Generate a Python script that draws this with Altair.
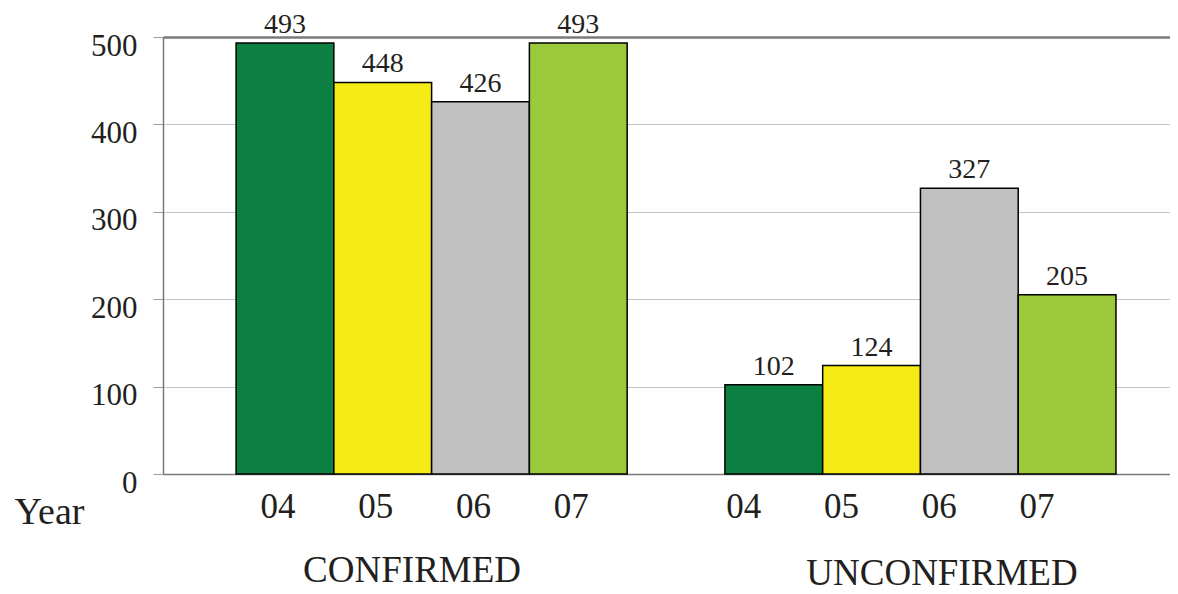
import altair as alt
import pandas as pd

groups = ["CONFIRMED"] * 4 + ["UNCONFIRMED"] * 4
years = ["04", "05", "06", "07"] * 2
values = [493, 448, 426, 493, 102, 124, 327, 205]
year_colors = ["#0b8040", "#f5eb16", "#c0c0c0", "#9aca3c"]
y_ticks = [0, 100, 200, 300, 400, 500]

keys = [("C" if g == "CONFIRMED" else "U") + "|" + y for g, y in zip(groups, years)]
domain = ["C|04", "C|05", "C|06", "C|07", "gap", "U|04", "U|05", "U|06", "U|07"]

df = pd.DataFrame({"key": keys, "group": groups, "year": years, "value": values})

FONT = "Liberation Serif"
W, H = 1007, 437

xscale = alt.Scale(domain=domain, paddingInner=0, paddingOuter=0.65, align=0.575)
yscale = alt.Scale(domain=[0, 500], nice=False)

x_axis = alt.Axis(
    title="Year",
    titleFont=FONT, titleFontSize=38, titleFontWeight="normal", titleColor="#231f20",
    titleX=-114, titleY=49, titleAlign="center", titleBaseline="alphabetic", titleAngle=0,
    labelExpr="datum.value == 'gap' ? '' : split(datum.value, '|')[1]",
    labelFont=FONT, labelFontSize=35, labelColor="#231f20",
    labelBaseline="alphabetic", labelPadding=43, labelAngle=0,
    labelOffset={"condition": {"test": "indexof(datum.value, 'U') == 0", "value": -30}, "value": -7},
    ticks=False, domainColor="#7a7a7a", domainWidth=1.5, grid=False,
)
y_axis = alt.Axis(
    title=None, values=y_ticks,
    labelFont=FONT, labelFontSize=31, labelColor="#231f20",
    labelBaseline="alphabetic", labelOffset=18, labelPadding=16,
    tickSize=10, tickColor="#9a9a9a", tickWidth=1,
    domainColor="#7a7a7a", domainWidth=1.5,
    grid=True,
    gridColor={"condition": {"test": "datum.value == 500", "value": "#7a7a7a"}, "value": "#c4c4c4"},
    gridWidth={"condition": {"test": "datum.value == 500", "value": 2.5}, "value": 1},
)

base = alt.Chart(df)

bars = base.mark_bar(stroke="black", strokeWidth=1.5).encode(
    x=alt.X("key:N", scale=xscale, axis=x_axis),
    y=alt.Y("value:Q", scale=yscale, axis=y_axis),
    color=alt.Color("year:N", scale=alt.Scale(domain=["04", "05", "06", "07"], range=year_colors), legend=None),
)

labels = base.mark_text(font=FONT, fontSize=28, baseline="alphabetic", dy=-10, color="#231f20").encode(
    x=alt.X("key:N", scale=xscale),
    y=alt.Y("value:Q", scale=yscale),
    text=alt.Text("value:Q"),
)

gdf1 = pd.DataFrame({"key": ["C|05"], "label": ["CONFIRMED"]})
gdf2 = pd.DataFrame({"key": ["U|06"], "label": ["UNCONFIRMED"]})

g1 = alt.Chart(gdf1).mark_text(font=FONT, fontSize=37, baseline="alphabetic", color="#231f20").encode(
    x=alt.X("key:N", scale=xscale, bandPosition=0.8),
    y=alt.value(545),
    text="label:N",
)
g2 = alt.Chart(gdf2).mark_text(font=FONT, fontSize=37, baseline="alphabetic", color="#231f20").encode(
    x=alt.X("key:N", scale=xscale, bandPosition=0.22),
    y=alt.value(548),
    text="label:N",
)

chart = alt.layer(bars, labels, g1, g2).properties(
    width=W, height=H,
    autosize=alt.AutoSizeParams(type="none"),
    padding={"left": 155, "top": 29, "right": 0, "bottom": 118},
).configure_view(stroke=None).configure(font=FONT)

chart.save("out.html", embed_options={"renderer": "svg", "actions": False})
